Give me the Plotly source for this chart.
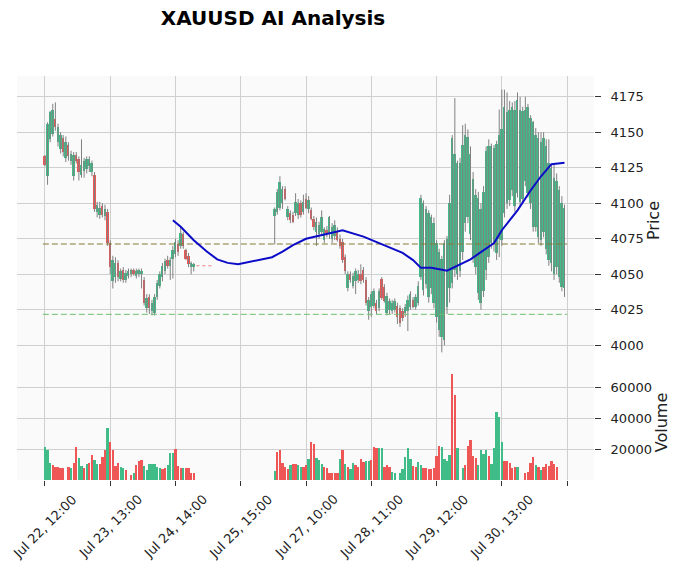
import plotly.graph_objects as go
from plotly.subplots import make_subplots

# ---------------- data ----------------
tick_labels = ["Jul 22, 12:00", "Jul 23, 13:00", "Jul 24, 14:00", "Jul 25, 15:00",
               "Jul 27, 10:00", "Jul 28, 11:00", "Jul 29, 12:00", "Jul 30, 13:00", ""]
tick_step = 25

# first session (rows 0..57)
seg_a_open = [4133, 4119, 4145, 4149, 4159, 4143, 4138, 4146, 4132, 4141,
              4130, 4119, 4134, 4131, 4120, 4123, 4124, 4126, 4122, 4120,
              4094, 4092, 4098, 4091, 4094, 4072, 4045, 4048, 4058, 4047,
              4053, 4046, 4049, 4050, 4053, 4049, 4050, 4050, 4046, 4026,
              4034, 4024, 4023, 4034, 4042, 4048, 4052, 4060, 4056, 4061,
              4064, 4071, 4070, 4078, 4067, 4063, 4055, 4055]
seg_a_high = [4134, 4157, 4165, 4170, 4171, 4156, 4150, 4148, 4147, 4143,
              4137, 4136, 4136, 4133, 4145, 4132, 4133, 4133, 4130, 4122,
              4101, 4101, 4100, 4099, 4096, 4074, 4063, 4062, 4060, 4054,
              4055, 4053, 4054, 4054, 4054, 4054, 4054, 4054, 4048, 4036,
              4036, 4032, 4036, 4046, 4052, 4058, 4061, 4063, 4062, 4070,
              4075, 4074, 4084, 4080, 4068, 4065, 4059, 4058]
seg_a_low = [4126, 4113, 4143, 4147, 4151, 4140, 4135, 4133, 4129, 4130,
             4127, 4116, 4128, 4116, 4118, 4118, 4121, 4122, 4119, 4094,
             4090, 4089, 4090, 4088, 4070, 4050, 4040, 4044, 4045, 4045,
             4044, 4044, 4047, 4048, 4049, 4047, 4048, 4040, 4028, 4023,
             4022, 4021, 4021, 4032, 4040, 4045, 4050, 4054, 4046, 4047,
             4062, 4063, 4068, 4068, 4060, 4055, 4050, 4052]
seg_a_close = [4127, 4156, 4164, 4166, 4154, 4154, 4148, 4136, 4143, 4133,
               4135, 4134, 4130, 4122, 4127, 4130, 4131, 4131, 4128, 4096,
               4099, 4097, 4092, 4096, 4072, 4055, 4060, 4058, 4048, 4052,
               4046, 4051, 4052, 4053, 4050, 4052, 4053, 4052, 4030, 4033,
               4026, 4030, 4034, 4044, 4050, 4056, 4059, 4056, 4060, 4067,
               4073, 4066, 4079, 4070, 4061, 4057, 4058, 4057]
seg_a_vol = [21600, 19400, 10800, 9500, 8600, 8600, 7800, 7800, 0, 8600,
             7800, 11200, 21600, 14300, 9100, 7800, 10400, 11200, 16200, 13000,
             10400, 10400, 15100, 19400, 33700, 24800, 19400, 9100, 11200, 8600,
             7800, 6500, 0, 3500, 4500, 9800, 12500, 13000, 9100, 6500,
             10400, 10400, 10400, 8600, 7800, 6900, 7800, 9500, 17700, 17700,
             20000, 9100, 7800, 7800, 7800, 7800, 4500, 4500]
seg_a_vol_dir = list("uuudddddddudduududduudddudddduud" "dduddduuuuuuuddu" "uudddudd")

# rows with no data between the two sessions
gap_len = 30

# second session (rows 88..199)
seg_b_open = [4091, 4094, 4097, 4100, 4110, 4090, 4093, 4092, 4093, 4092,
              4100, 4094, 4103, 4096, 4095, 4089, 4080, 4078, 4080, 4074,
              4081, 4078, 4075, 4077, 4080, 4075, 4073, 4062, 4040, 4050,
              4042, 4045, 4046, 4050, 4053, 4046, 4024, 4027, 4028, 4030,
              4026, 4047, 4041, 4023, 4025, 4024, 4025, 4028, 4026, 4024,
              4023, 4024, 4027, 4032, 4027, 4030,
              4048, 4039, 4043, 4034, 4040, 4030, 4020, 4011, 4006, 4004,
              4027, 4040, 4044, 4053, 4050, 4052, 4066, 4086, 4090, 4078,
              4062, 4055, 4037, 4030, 4038, 4053, 4062, 4072, 4072, 4065,
              4075, 4074, 4093, 4100, 4102, 4109, 4098, 4107, 4101, 4103,
              4116, 4107, 4100, 4083, 4083, 4076, 4074, 4080, 4068, 4060,
              4058, 4050, 4055, 4048, 4041, 4040]
seg_b_high = [4097, 4110, 4119, 4112, 4112, 4098, 4095, 4094, 4107, 4103,
              4102, 4106, 4107, 4105, 4097, 4091, 4090, 4087, 4095, 4083,
              4084, 4091, 4086, 4088, 4083, 4078, 4075, 4064, 4052, 4052,
              4051, 4054, 4053, 4057, 4055, 4048, 4034, 4038, 4040, 4032,
              4040, 4048, 4043, 4037, 4033, 4032, 4033, 4030, 4028, 4026,
              4029, 4035, 4038, 4034, 4036, 4045,
              4106, 4102, 4098, 4095, 4092, 4090, 4074, 4068, 4063, 4074,
              4077, 4106, 4148, 4174, 4130, 4132, 4155, 4156, 4152, 4140,
              4122, 4110, 4108, 4100, 4112, 4140, 4145, 4142, 4141, 4144,
              4166, 4180, 4180, 4178, 4172, 4171, 4172, 4178, 4175, 4168,
              4175, 4170, 4162, 4158, 4153, 4150, 4150, 4150, 4145, 4145,
              4127, 4127, 4121, 4112, 4105, 4099]
seg_b_low = [4071, 4092, 4095, 4096, 4102, 4088, 4086, 4086, 4091, 4089,
             4090, 4092, 4096, 4093, 4088, 4081, 4070, 4075, 4077, 4072,
             4076, 4075, 4072, 4074, 4073, 4068, 4058, 4050, 4038, 4044,
             4040, 4036, 4044, 4043, 4044, 4028, 4018, 4020, 4026, 4022,
             4024, 4032, 4030, 4021, 4022, 4022, 4023, 4015, 4013, 4017,
             4020, 4010, 4025, 4026, 4025, 4028,
             4046, 4035, 4040, 4030, 4036, 4026, 4016, 4006, 3995, 4000,
             4022, 4030, 4040, 4048, 4046, 4048, 4060, 4080, 4086, 4074,
             4058, 4050, 4032, 4025, 4034, 4046, 4058, 4068, 4066, 4060,
             4062, 4070, 4090, 4096, 4098, 4105, 4094, 4104, 4098, 4100,
             4112, 4104, 4096, 4080, 4080, 4072, 4070, 4076, 4064, 4056,
             4052, 4046, 4050, 4044, 4038, 4034]
seg_b_close = [4096, 4108, 4115, 4110, 4103, 4096, 4088, 4087, 4101, 4100,
               4092, 4101, 4097, 4102, 4089, 4083, 4087, 4085, 4090, 4082,
               4079, 4090, 4083, 4085, 4074, 4070, 4060, 4052, 4050, 4046,
               4049, 4052, 4050, 4045, 4046, 4030, 4032, 4036, 4038, 4024,
               4038, 4033, 4031, 4035, 4031, 4030, 4031, 4020, 4016, 4019,
               4027, 4032, 4036, 4027, 4034, 4042,
               4104, 4100, 4096, 4093, 4090, 4086, 4072, 4066, 4061, 4072,
               4075, 4100, 4146, 4135, 4128, 4128, 4141, 4148, 4147, 4135,
               4117, 4106, 4104, 4096, 4108, 4137, 4140, 4140, 4139, 4142,
               4148, 4152, 4168, 4164, 4166, 4168, 4166, 4173, 4166, 4165,
               4166, 4168, 4160, 4157, 4148, 4146, 4143, 4146, 4140, 4128,
               4125, 4118, 4116, 4109, 4100, 4097]
seg_b_vol = [6000, 18000, 19400, 10800, 8600, 7000, 10000, 10400, 10400, 10000,
             8600, 8600, 10000, 13600, 24800, 23300, 14300, 13000, 10400, 8600,
             7800, 4800, 4800, 4300, 4300, 13600, 19400, 10400, 8600, 7100,
             10800, 9900, 8200, 13600, 11400, 12500, 12500, 13000, 21600, 20700,
             20700, 20700, 8600, 9500, 8200, 5000, 4300, 0, 4800, 7100,
             14700, 20700, 13600, 9100, 8600,
             11700, 9500, 7800, 7800, 7100, 7100, 7800, 15800, 22200, 21600,
             13600, 12500, 16400, 68300, 54600, 20700, 0,
             7800, 9900, 22200, 25500, 15500, 14300, 9900, 19400, 16800, 19400,
             15500, 10400, 20700,
             43800, 40600, 24200, 12100, 12100, 10800, 7800, 8600, 8600, 0, 0,
             4800, 5000, 10800, 15100, 9900, 8600, 6500, 8200, 10400, 9300,
             12500, 10400, 8200, 13000, 13000, 5000]
seg_b_vol_dir = list("uuudddddudduuddudduuuddddddududuudddduuddduuddduuduuuuudd"
                     "uuddddddduuuuddu" "uuddddduuuud" "uuuuudddddu" "ddddddudu" "dddddd")

# AI trend line (row index, price)
ai_x = [49, 52, 57, 62, 66, 70, 74, 80, 87, 91, 95, 100, 107, 114, 122, 128,
        137, 141, 144, 148, 154, 163, 169, 172, 175, 181, 186, 190, 194, 199]
ai_y = [4088, 4083.5, 4074, 4066, 4060.5, 4058, 4057, 4059.5, 4062, 4066, 4070.5,
        4075, 4078, 4081, 4076.5, 4072, 4065, 4060, 4054.5, 4054.5, 4052.5, 4060.5,
        4068, 4072, 4081, 4095, 4109, 4119, 4127.5, 4128.5]

# short prediction marker
pred_x = [58, 64]
pred_y = [4056, 4056]

# key levels
resistance_level = 4071.3
support_level = 4021.8

# ---------------- assemble ----------------
opens = seg_a_open + [None] * gap_len + seg_b_open
highs = seg_a_high + [None] * gap_len + seg_b_high
lows = seg_a_low + [None] * gap_len + seg_b_low
closes = seg_a_close + [None] * gap_len + seg_b_close
vols = seg_a_vol + [None] * gap_len + seg_b_vol
vdirs = seg_a_vol_dir + [None] * gap_len + seg_b_vol_dir

UP = "#3fbc88"
DOWN = "#ef5757"
WICK = "#808080"

fig = make_subplots(rows=2, cols=1, shared_xaxes=True, vertical_spacing=0,
                    row_heights=[289, 115])

wx, wy = [], []
bx, bbase, bh, bcol = [], [], [], []
for i, (o, h, l, c) in enumerate(zip(opens, highs, lows, closes)):
    if o is None:
        continue
    wx += [i, i, None]
    wy += [l, h, None]
    lo, hi = min(o, c), max(o, c)
    bx.append(i)
    bbase.append(lo)
    bh.append(max(hi - lo, 0.5))
    bcol.append(UP if c >= o else DOWN)

fig.add_trace(go.Scatter(x=wx, y=wy, mode="lines", line=dict(color=WICK, width=1),
                         hoverinfo="skip", showlegend=False), row=1, col=1)
fig.add_trace(go.Bar(x=bx, y=bh, base=bbase, width=0.74,
                     marker=dict(color=bcol, line=dict(width=0)),
                     showlegend=False), row=1, col=1)

n_rows = len(opens)
for lvl, colr in [(resistance_level, "#857a36"), (support_level, "#6cbf6c")]:
    fig.add_trace(go.Scatter(x=[-0.8, n_rows], y=[lvl, lvl], mode="lines",
                             line=dict(color=colr, width=1, dash="6px,3px"),
                             showlegend=False, hoverinfo="skip"), row=1, col=1)

fig.add_trace(go.Scatter(x=pred_x, y=pred_y, mode="lines",
                         line=dict(color="#f08080", width=1, dash="dot"),
                         showlegend=False), row=1, col=1)

fig.add_trace(go.Scatter(x=ai_x, y=ai_y, mode="lines",
                         line=dict(color="#0c0cc8", width=2),
                         showlegend=False), row=1, col=1)

vx, vy, vc = [], [], []
for i, (v, d) in enumerate(zip(vols, vdirs)):
    if v is None:
        continue
    vx.append(i)
    vy.append(v)
    vc.append(UP if d == "u" else DOWN)
fig.add_trace(go.Bar(x=vx, y=vy, width=0.88, marker=dict(color=vc, line=dict(width=0)),
                     showlegend=False), row=2, col=1)

font_family = "DejaVu Sans"
grid = "#cfcfcf"
xr = [-10.7, 210.3]
tickvals = [k * tick_step for k in range(len(tick_labels))]

fig.update_layout(
    width=676, height=570,
    margin=dict(l=17, r=82, t=76, b=90),
    paper_bgcolor="white", plot_bgcolor="#fafafa",
    font=dict(family=font_family, size=13, color="#222222"),
    bargap=0, showlegend=False,
    title=dict(text="<b>XAUUSD AI Analysis</b>", x=273 / 676, xanchor="center",
               y=1 - 18 / 570, yanchor="middle", yref="container",
               font=dict(family=font_family, size=20, color="#000000")),
)
fig.update_xaxes(range=xr, tickvals=tickvals, showgrid=True, showticklabels=False,
                 gridcolor=grid, gridwidth=1, zeroline=False, showline=False)
fig.update_xaxes(ticks="", row=1, col=1)
fig.update_xaxes(ticks="outside", ticklen=5, tickcolor="#333333", row=2, col=1)

# rotated date labels centred under each tick
for v, lab in zip(tickvals, tick_labels):
    if lab:
        fig.add_annotation(x=v, xref="x2", y=0, yref="paper", text=lab,
                           textangle=-45, showarrow=False, xanchor="center",
                           yanchor="top", yshift=-9,
                           font=dict(family=font_family, size=13, color="#222222"))

fig.update_yaxes(side="right", showgrid=True, gridcolor=grid, gridwidth=1,
                 zeroline=False, showline=False, ticks="outside", ticklen=6,
                 tickcolor="#333333", ticklabelstandoff=7)
fig.update_yaxes(range=[3986.1, 4189.6], tickvals=list(range(4000, 4176, 25)),
                 title=dict(text="Price", standoff=2), row=1, col=1)
fig.update_yaxes(range=[0, 74200], tickvals=[20000, 40000, 60000], tickformat="d",
                 title=dict(text="Volume", standoff=1), row=2, col=1)

fig.write_html("out.html")
